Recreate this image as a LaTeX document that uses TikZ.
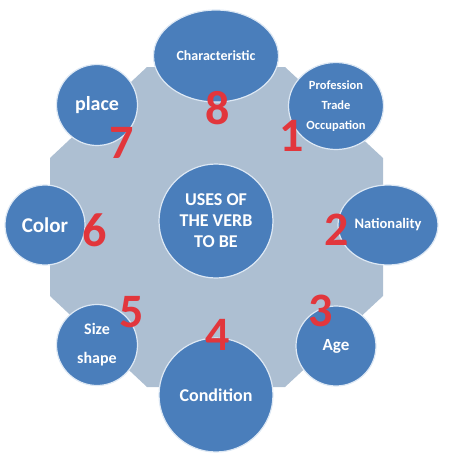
\documentclass[tikz,border=0pt]{standalone}
\usepackage{fontspec}
\setmainfont{Carlito}
\usetikzlibrary{shapes.geometric,positioning}
\definecolor{ringbg}{HTML}{ADBFD2}
\definecolor{topicblue}{HTML}{4A7EBB}
\definecolor{topicedge}{HTML}{DDE8F4}
\definecolor{numred}{HTML}{E2363C}
\newcommand{\fsz}[2]{\fontsize{#1}{#2}\selectfont}

\begin{document}
\begin{tikzpicture}[
  x=1pt, y=-1pt,
  every node/.style={align=center},
  topic/.style={circle, draw=topicedge, line width=1.2pt, fill=topicblue,
    text=white, inner sep=0pt, minimum size=#1},
  topicoval/.style 2 args={ellipse, draw=topicedge, line width=1.2pt, fill=topicblue,
    text=white, inner sep=0pt, minimum width=#1, minimum height=#2},
  txt/.style 2 args={font=\bfseries\fsz{#1}{#2}},
  num/.style={text=numred, font=\bfseries\fsz{48}{48}, inner sep=0pt},
]
\useasboundingbox (0,0) rectangle (449,467);

% --- Background octagon ---------------------------------------
\fill[ringbg] (147,67) -- (285,67) -- (383,158) -- (383,296)
  -- (285,387) -- (147,387) -- (50,296) -- (50,158) -- cycle;

% --- Topics ---------------------------------------------------
\node[topic=114, txt={18}{21}] (uses) at (216,221) {USES OF\\THE VERB\\TO BE};
\node[topicoval={125}{92}, txt={14}{17}] (charac) at (216,56) {Characteristic};
\node[topicoval={95}{87}, txt={12.5}{20}] (prof) at (336,106) {Profession\\Trade\\Occupation};
\node[topicoval={100}{80}, txt={14.5}{17}] (nation) at (388,225) {Nationality};
\node[topic=80, txt={17}{20}] (age) at (336,346) {Age};
\node[topic=114, txt={18}{20}] (cond) at (216,395) {Condition};
\node[topic=81, txt={16}{29}] (size) at (97,345) {Size\\shape};
\node[topic=80, txt={21}{24}] (color) at (45,225) {Color};
\node[topic=81, txt={20}{23}] (place) at (97,105) {place};

% --- Numbers --------------------------------------------------
\node[num] (n1) at (292,136) {1};
\node[num] (n2) at (337,230) {2};
\node[num] (n3) at (321,311) {3};
\node[num] (n4) at (218,335) {4};
\node[num] (n5) at (132,312) {5};
\node[num] (n6) at (95,230) {6};
\node[num] (n7) at (122,143) {7};
\node[num] (n8) at (218,108) {8};

\end{tikzpicture}
\end{document}
